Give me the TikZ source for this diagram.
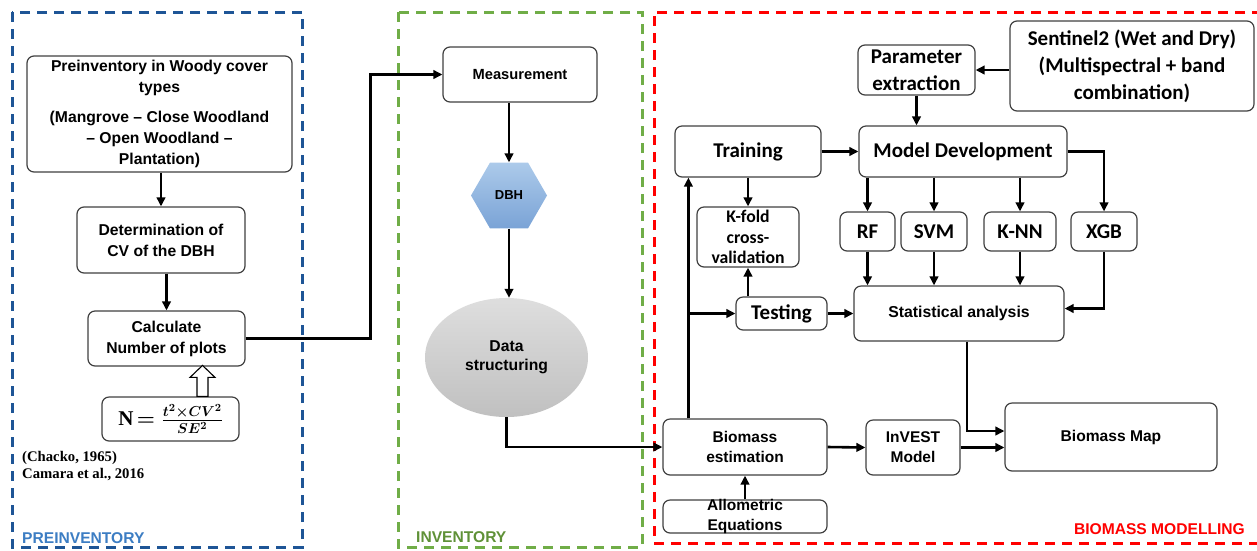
\documentclass[tikz,border=0pt]{standalone}
\usepackage{fontspec}
\setmainfont{Liberation Sans}
\newfontfamily\calib{Carlito}
\newfontfamily\timesb{Liberation Serif}
\usepackage{amsmath}
\usetikzlibrary{arrows.meta,shapes.geometric,calc}

\definecolor{preblue}{RGB}{30,85,150}
\definecolor{prelab}{RGB}{60,125,195}
\definecolor{invgreen}{RGB}{112,173,71}
\definecolor{invlab}{RGB}{95,145,55}
\definecolor{modred}{RGB}{255,0,0}
\definecolor{hextop}{RGB}{172,202,234}
\definecolor{hexbot}{RGB}{122,163,214}
\definecolor{elltop}{RGB}{222,222,222}
\definecolor{ellbot}{RGB}{192,192,192}

\tikzset{
  box/.style={draw=black!75, line width=1.2pt, rounded corners=7pt, fill=white,
    align=center, font=\bfseries\fontsize{15.7}{21}\selectfont},
  cbox/.style={box, font=\calib\bfseries\fontsize{21}{27}\selectfont},
  flow/.style={line width=2.6pt},
  panel/.style={line width=3pt, dash pattern=on 10pt off 7pt},
  tag/.style={inner sep=0pt, font=\bfseries\fontsize{15.6}{18}\selectfont},
}

\begin{document}
\begin{tikzpicture}[x=1pt, y=-1pt, >={Triangle[length=9pt,width=8.5pt]}]
	\useasboundingbox (0,0) rectangle (1257,550);
	%\draw[blue] (0,0) grid[step=50] (1257,550);

	% the three panels
	\draw [panel, preblue] (12,12) rectangle (302,547);
	\draw [panel, invgreen] (398,12) rectangle (642,547);
	\draw [panel, modred] (1262,12) -- (654,12) -- (654,543) -- (1262,543);

	\node [tag, text=prelab, anchor=west] (lpre) at (22,538) {PREINVENTORY};
	\node [tag, text=invlab, anchor=west] (linv) at (416,537) {INVENTORY};
	\node [tag, text=modred, anchor=east] (lmod) at (1245,529) {BIOMASS MODELLING};

	% preinventory
	\node [box, minimum width=265pt, minimum height=116pt] (pre) at (159.5,114)
		{Preinventory in Woody cover\\types\\[9pt](Mangrove -- Close Woodland\\-- Open Woodland --\\Plantation)};
	\node [box, minimum width=168pt, minimum height=66pt] (det) at (161,240) {Determination of\\CV of the DBH};
	\node [box, minimum width=157pt, minimum height=55pt] (calc) at (166.5,338.5) {Calculate\\Number of plots};
	\node [box, font=\boldmath\timesb\bfseries\fontsize{21}{23}\selectfont, minimum width=137pt, minimum height=44pt] (frm) at (170.5,419)
		{N\,$=\frac{t^2\times CV^2}{SE^2}$};
	\node [align=left, anchor=north west, inner sep=0pt, font=\timesb\bfseries\fontsize{14.7}{17.5}\selectfont] (ref) at (22,451)
		{(Chacko, 1965)\\Camara et al., 2016};

	% inventory
	\node [box, font=\bfseries\fontsize{14.7}{18}\selectfont, minimum width=154pt, minimum height=55pt] (meas) at (520,74.5) {Measurement};
	\node [regular polygon, regular polygon sides=6, minimum size=76pt, inner sep=0pt, top color=hextop, bottom color=hexbot,
		font=\bfseries\fontsize{13}{15}\selectfont] (dbh) at (509,195.5) {DBH};
	\node [ellipse, minimum width=163pt, minimum height=119pt, inner sep=0pt, top color=elltop, bottom color=ellbot,
		align=center, font=\bfseries\fontsize{15.7}{19.5}\selectfont] (ds) at (506.5,357.5) {Data\\structuring};

	% biomass modelling
	\node [cbox, minimum width=244pt, minimum height=90pt] (sen) at (1132,66) {Sentinel2 (Wet and Dry)\\(Multispectral + band\\combination)};
	\node [cbox, inner ysep=1pt, minimum width=117pt, minimum height=50pt] (par) at (916.5,70) {Parameter\\extraction};
	\node [cbox, minimum width=146pt, minimum height=51pt] (tr) at (748,151.5) {Training};
	\node [cbox, minimum width=208pt, minimum height=51pt] (md) at (963,151.5) {Model Development};
	\node [cbox, inner ysep=1pt, font=\calib\bfseries\fontsize{17.7}{20.5}\selectfont, minimum width=102pt, minimum height=60pt] (kf) at (748,237)
		{K-fold\\cross-\\validation};
	\node [cbox, minimum width=55pt, minimum height=39pt] (rf) at (867.5,231.5) {RF};
	\node [cbox, minimum width=66pt, minimum height=39pt] (svm) at (934,231.5) {SVM};
	\node [cbox, minimum width=72pt, minimum height=39pt] (knn) at (1020,231.5) {K-NN};
	\node [cbox, minimum width=66pt, minimum height=39pt] (xgb) at (1104,231.5) {XGB};
	\node [box, font=\bfseries\fontsize{15.8}{20}\selectfont, minimum width=210pt, minimum height=55pt] (st) at (959,313.5) {Statistical analysis};
	\node [cbox, minimum width=91pt, minimum height=33pt] (te) at (781.5,313.5) {Testing};
	\node [box, font=\bfseries\fontsize{15.5}{20}\selectfont, minimum width=164pt, minimum height=56pt] (be) at (745,447) {Biomass\\estimation};
	\node [box, font=\bfseries\fontsize{15.5}{20}\selectfont, inner ysep=-5pt, minimum width=164pt, minimum height=33pt] (al) at (745,516.5) {Allometric\\Equations};
	\node [box, font=\bfseries\fontsize{15.5}{20}\selectfont, minimum width=94pt, minimum height=55pt] (inv) at (913,447.5) {InVEST\\Model};
	\node [box, font=\bfseries\fontsize{15.6}{20}\selectfont, minimum width=212pt, minimum height=68pt] (bm) at (1111,437) {Biomass Map};

	% connectors, left
	\draw [flow,->] (det.north |- pre.south) -- (det.north);
	\draw [flow,->] (calc.north |- det.south) -- (calc.north);
	\draw [line width=1.1pt, fill=white] ($(frm.north)+(26.5,0)$) -- ++(0,-19) -- ++(-7,0) -- ++(12.5,-12)
		-- ++(12.5,12) -- ++(-7,0) -- ++(0,19) -- cycle;
	\draw [flow,->] (calc.east) -- ++(125,0) |- (meas.west);

	% connectors, middle
	\draw [flow,->] (meas.south -| dbh.north) -- (dbh.north);
	\draw [flow,->] (dbh.south) -- (dbh.south |- ds.north);
	\draw [flow,->] (ds.south) |- (be.west);

	% connectors, right
	\draw [flow,->] (sen.west |- par.east) -- (par.east);
	\draw [flow,->] (par.south) -- (par.south |- md.north);
	\draw [flow,->] (tr.east) -- (md.west);
	\draw [flow,->] (md.east) -| (xgb.north);
	\draw [flow,->] (rf.north |- md.south) -- (rf.north);
	\draw [flow,->] (svm.north |- md.south) -- (svm.north);
	\draw [flow,->] (knn.north |- md.south) -- (knn.north);
	\draw [flow,->] (rf.south) -- (rf.south |- st.north);
	\draw [flow,->] (svm.south) -- (svm.south |- st.north);
	\draw [flow,->] (knn.south) -- (knn.south |- st.north);
	\draw [flow,->] (xgb.south) |- ([yshift=5pt]st.east);
	\draw [flow,->] (tr.south) -- (kf.north);
	\draw [flow,->] (kf.south |- te.north) -- (kf.south);
	\draw [flow,->] (te.east) -- (st.west);
	\coordinate (up) at ($(be.north west)+(26,0)$);
	\draw [flow,->] (up) -- (up |- tr.south);
	\draw [flow,->] (up |- te.west) -- (te.west);
	\draw [flow,->] (al.north) -- (be.south);
	\draw [flow,->] (be.east) -- (inv.west);
	\draw [flow,->] (inv.east) -- (inv.east -| bm.west);
	\draw [flow,->] ($(st.south)+(8,0)$) |- ([yshift=6pt]bm.west);
\end{tikzpicture}
\end{document}
